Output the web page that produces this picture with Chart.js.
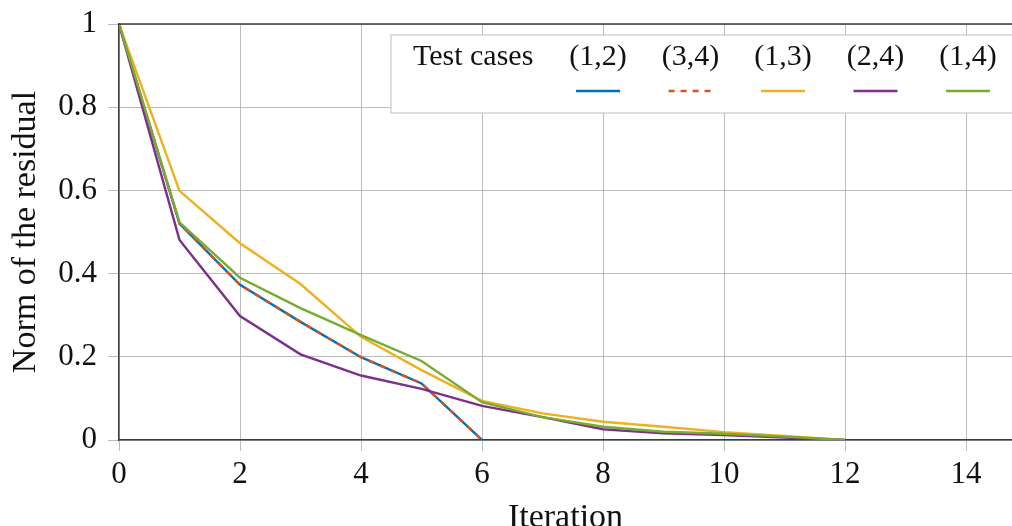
<!DOCTYPE html>
<html>
<head>
<meta charset="utf-8">
<script src="https://cdn.jsdelivr.net/npm/chart.js@4/dist/chart.umd.min.js"></script>
<style>
  html, body { margin: 0; padding: 0; background: #fff; overflow: hidden; }
  #wrap { width: 1012px; height: 540px; position: relative; }
</style>
</head>
<body>
<div id="wrap"><canvas id="chart"></canvas></div>
<script>
// ─── Data ───────────────────────────────────────────────────────────────────

const iterations = [0, 1, 2, 3, 4, 5, 6, 7, 8, 9, 10, 11, 12];

const case12 = [1, 0.52, 0.373, 0.284, 0.199, 0.136, 0];
const case34 = [1, 0.52, 0.373, 0.284, 0.199, 0.136, 0];
const case13 = [1, 0.599, 0.473, 0.375, 0.248, 0.168, 0.094, 0.064, 0.044, 0.032, 0.019, 0.01, 0];
const case24 = [1, 0.481, 0.298, 0.206, 0.155, 0.123, 0.082, 0.055, 0.026, 0.016, 0.012, 0.006, 0];
const case14 = [1, 0.523, 0.39, 0.317, 0.252, 0.19, 0.091, 0.055, 0.032, 0.02, 0.015, 0.008, 0];

const caseLabels = ['(1,2)', '(3,4)', '(1,3)', '(2,4)', '(1,4)'];
const caseColors = ['#0072BD', '#D95319', '#EDB120', '#7E2F8E', '#77AC30'];

const xTicks = [0, 2, 4, 6, 8, 10, 12, 14];
const yTicks = [0, 0.2, 0.4, 0.6, 0.8, 1];
const yTickLabels = ['0', '0.2', '0.4', '0.6', '0.8', '1'];
const X_MAX = 14.76;

// ─── Helpers ────────────────────────────────────────────────────────────────

const FONT = '"Liberation Serif", "Times New Roman", serif';
const GRID = '#bcbcbc';
const AXIS = '#3c3c3c';

function toPoints(values) {
  return values.map((v, i) => ({ x: iterations[i], y: v }));
}

// Top frame line (pgfplots box)
const frameTopPlugin = {
  id: 'frameTop',
  afterDraw(chart) {
    const { ctx, chartArea: a } = chart;
    ctx.save();
    ctx.strokeStyle = AXIS;
    ctx.lineWidth = 1.5;
    ctx.beginPath();
    ctx.moveTo(a.left, a.top);
    ctx.lineTo(a.right, a.top);
    ctx.stroke();
    ctx.restore();
  }
};

// Horizontal legend: title, then labels with line samples below
const legendPlugin = {
  id: 'caseLegend',
  afterDraw(chart) {
    const ctx = chart.ctx;
    const boxLeft = 391, boxTop = 35, boxBottom = 113;
    ctx.save();
    ctx.fillStyle = '#ffffff';
    ctx.strokeStyle = '#c8c8c8';
    ctx.lineWidth = 1.2;
    ctx.fillRect(boxLeft, boxTop, 700, boxBottom - boxTop);
    ctx.strokeRect(boxLeft, boxTop, 700, boxBottom - boxTop);

    ctx.font = '30px ' + FONT;
    ctx.fillStyle = '#111';
    ctx.textBaseline = 'alphabetic';
    ctx.textAlign = 'left';
    const textY = 65;
    let x = 413;
    ctx.fillText('Test cases', x, textY);
    x += ctx.measureText('Test cases').width + 36;

    chart.data.datasets.forEach(ds => {
      const w = ctx.measureText(ds.label).width;
      const cx = x + w / 2;
      ctx.textAlign = 'center';
      ctx.fillText(ds.label, cx, textY);
      ctx.strokeStyle = ds.borderColor;
      ctx.lineWidth = 2.5;
      ctx.setLineDash(ds.borderDash || []);
      ctx.beginPath();
      ctx.moveTo(cx - 22, 91);
      ctx.lineTo(cx + 22, 91);
      ctx.stroke();
      ctx.setLineDash([]);
      x += w + 35;
    });
    ctx.restore();
  }
};

// ─── Chart ──────────────────────────────────────────────────────────────────

const seriesValues = [case12, case34, case13, case24, case14];

const datasets = seriesValues.map((vals, i) => ({
  label: caseLabels[i],
  data: toPoints(vals),
  borderColor: caseColors[i],
  backgroundColor: caseColors[i],
  borderWidth: 2.4,
  borderDash: i === 1 ? [6, 6] : [],
  pointRadius: 0,
  tension: 0,
  fill: false,
  order: seriesValues.length - i
}));

new Chart(document.getElementById('chart'), {
  type: 'line',
  data: { datasets },
  plugins: [frameTopPlugin, legendPlugin],
  options: {
    responsive: true,
    maintainAspectRatio: false,
    animation: false,
    layout: { padding: { top: 24, right: 0, left: 0, bottom: 0 } },
    plugins: {
      legend: { display: false },
      tooltip: { enabled: false }
    },
    scales: {
      x: {
        type: 'linear',
        min: 0,
        max: X_MAX,
        afterFit: s => { s.height = 100; s.paddingLeft = 0; s.paddingRight = 0; },
        afterBuildTicks: s => { s.ticks = xTicks.map(v => ({ value: v })); },
        ticks: {
          color: '#111',
          font: { family: FONT, size: 31 },
          padding: 5,
          maxRotation: 0,
          includeBounds: false
        },
        grid: { color: GRID, lineWidth: 1, tickLength: 11, tickColor: GRID },
        border: { color: AXIS, width: 1.5 },
        title: {
          display: true,
          text: 'Iteration',
          color: '#111',
          font: { family: FONT, size: 34 },
          padding: { top: 0, bottom: 2 }
        }
      },
      y: {
        type: 'linear',
        min: 0,
        max: 1,
        afterFit: s => { s.width = 119; s.paddingTop = 0; s.paddingBottom = 0; },
        afterBuildTicks: s => { s.ticks = yTicks.map(v => ({ value: v })); },
        ticks: {
          color: '#111',
          font: { family: FONT, size: 31 },
          padding: 11,
          callback: (val, idx) => yTickLabels[idx]
        },
        grid: { color: GRID, lineWidth: 1, tickLength: 11, tickColor: GRID },
        border: { color: AXIS, width: 1.5 },
        title: {
          display: true,
          text: 'Norm of the residual',
          color: '#111',
          font: { family: FONT, size: 34 },
          padding: { top: 6, bottom: 0 }
        }
      }
    }
  }
});
</script>
</body>
</html>
